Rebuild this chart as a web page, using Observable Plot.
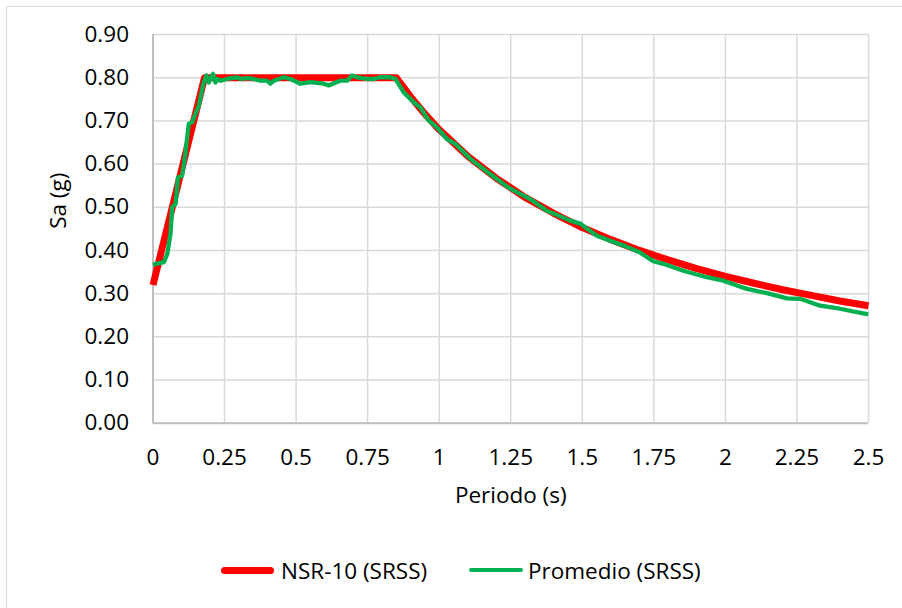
<!DOCTYPE html>
<html>
<head>
<meta charset="utf-8">
<script src="https://cdn.jsdelivr.net/npm/d3@7"></script>
<script src="https://cdn.jsdelivr.net/npm/@observablehq/plot@0.6"></script>
<style>
  html, body { margin: 0; padding: 0; background: #fff; }
  #wrap { position: relative; width: 902px; height: 608px; overflow: hidden; font-family: "Open Sans", sans-serif; }
  #frame { position: absolute; left: 6px; top: 6px; width: 1000px; height: 1000px; border-left: 1px solid #d9d9d9; border-top: 1px solid #d9d9d9; }
  #chart { position: absolute; left: 0; top: 0; }
  #legend { position: absolute; top: 554px; left: 0; width: 902px; height: 32px; font-size: 22.5px; color: #000; }
  .item { position: absolute; top: 0; display: flex; align-items: center; height: 32px; white-space: nowrap; }
  .sw { display: inline-block; border-radius: 4px; }
</style>
</head>
<body>
<div id="wrap">
  <div id="frame"></div>
  <div id="chart"></div>
  <div id="legend">
    <div class="item" style="left:221px"><span class="sw" style="width:53px;height:7px;background:#ff0000;margin-right:7px"></span>NSR-10 (SRSS)</div>
    <div class="item" style="left:469px"><span class="sw" style="width:54px;height:4px;background:#00b050;margin-right:5px"></span>Promedio (SRSS)</div>
  </div>
</div>
<script>
// Series names
const seriesNames = ["NSR-10 (SRSS)", "Promedio (SRSS)"];

// NSR-10 design spectrum
const nsrT  = [0, 0.18, 0.85, 0.9, 0.95, 1.0, 1.1, 1.2, 1.3, 1.4, 1.5, 1.6, 1.7, 1.8, 1.9, 2.0, 2.1, 2.2, 2.3, 2.4, 2.5];
const nsrSa = [0.32, 0.80, 0.80, 0.756, 0.716, 0.68, 0.618, 0.567, 0.523, 0.486, 0.453, 0.425, 0.40, 0.378, 0.358, 0.34, 0.324, 0.309, 0.296, 0.283, 0.272];

// Average spectrum
const avgT  = [0, 0.038, 0.050, 0.061, 0.067, 0.079, 0.087, 0.102, 0.113, 0.125, 0.137, 0.148, 0.160, 0.177, 0.187, 0.195, 0.210, 0.218, 0.224, 0.236, 0.259, 0.294, 0.306, 0.329, 0.352, 0.375, 0.399, 0.410, 0.422, 0.457, 0.480, 0.503, 0.515, 0.550, 0.596, 0.614, 0.643, 0.655, 0.678, 0.696, 0.713, 0.748, 0.771, 0.794, 0.829, 0.847, 0.876, 0.911, 0.934, 0.963, 0.992, 1.027, 1.056, 1.109, 1.178, 1.248, 1.318, 1.376, 1.458, 1.493, 1.551, 1.60, 1.65, 1.70, 1.748, 1.783, 1.853, 1.935, 1.993, 2.075, 2.145, 2.215, 2.261, 2.331, 2.40, 2.499];
const avgSa = [0.367, 0.373, 0.392, 0.438, 0.500, 0.508, 0.569, 0.573, 0.624, 0.693, 0.697, 0.716, 0.735, 0.789, 0.805, 0.789, 0.809, 0.789, 0.797, 0.793, 0.797, 0.801, 0.797, 0.799, 0.797, 0.793, 0.793, 0.786, 0.793, 0.801, 0.797, 0.790, 0.786, 0.790, 0.786, 0.782, 0.790, 0.793, 0.793, 0.805, 0.801, 0.797, 0.797, 0.801, 0.801, 0.797, 0.766, 0.743, 0.731, 0.701, 0.685, 0.658, 0.647, 0.612, 0.577, 0.543, 0.519, 0.492, 0.469, 0.462, 0.434, 0.422, 0.410, 0.396, 0.375, 0.369, 0.353, 0.338, 0.330, 0.311, 0.301, 0.289, 0.288, 0.272, 0.265, 0.252];

// Ticks
const xTicks = [0, 0.25, 0.5, 0.75, 1, 1.25, 1.5, 1.75, 2, 2.25, 2.5];
const xTickLabels = ["0", "0.25", "0.5", "0.75", "1", "1.25", "1.5", "1.75", "2", "2.25", "2.5"];
const yTicks = [0, 0.1, 0.2, 0.3, 0.4, 0.5, 0.6, 0.7, 0.8, 0.9];
const yTickLabels = ["0.00", "0.10", "0.20", "0.30", "0.40", "0.50", "0.60", "0.70", "0.80", "0.90"];

const nsr = nsrT.map((t, i) => ({T: t, Sa: nsrSa[i]}));
const avg = avgT.map((t, i) => ({T: t, Sa: avgSa[i]}));

const xFmt = d => xTickLabels[xTicks.findIndex(v => Math.abs(v - d) < 1e-9)];
const yFmt = d => yTickLabels[yTicks.findIndex(v => Math.abs(v - d) < 1e-9)];

const FS = 22.5;

const chart = Plot.plot({
  width: 902,
  height: 530,
  marginLeft: 152.5,
  marginRight: 34,
  marginTop: 34,
  marginBottom: 107.3,
  style: {fontFamily: "'Open Sans', sans-serif", fontSize: FS + "px", color: "#000", background: "transparent"},
  x: {domain: [0, 2.5], label: null},
  y: {domain: [0, 0.9], label: null},
  marks: [
    Plot.gridX(xTicks, {stroke: "#d9d9d9", strokeOpacity: 1, strokeWidth: 1.5}),
    Plot.gridY(yTicks, {stroke: "#d9d9d9", strokeOpacity: 1, strokeWidth: 1.5}),
    Plot.ruleX([0], {stroke: "#bfbfbf", strokeWidth: 2}),
    Plot.ruleY([0], {stroke: "#bfbfbf", strokeWidth: 2}),
    Plot.axisX(xTicks, {tickSize: 0, tickPadding: 26, fontSize: FS, fill: "#000", tickFormat: xFmt, label: null}),
    Plot.axisY(yTicks, {tickSize: 0, tickPadding: 24, fontSize: FS, fill: "#000", tickFormat: yFmt, label: null}),
    Plot.line(nsr, {x: "T", y: "Sa", stroke: "#ff0000", strokeWidth: 7, strokeLinejoin: "round", strokeLinecap: "butt"}),
    Plot.line(avg, {x: "T", y: "Sa", stroke: "#00b050", strokeWidth: 4.3, strokeLinejoin: "round", strokeLinecap: "butt"}),
    Plot.text(["Periodo (s)"], {frameAnchor: "bottom", dy: 80, fontSize: FS, fill: "#000"}),
    Plot.text(["Sa (g)"], {frameAnchor: "left", dx: -94, rotate: -90, fontSize: FS, fill: "#000"})
  ]
});
document.getElementById("chart").appendChild(chart);
</script>
</body>
</html>
